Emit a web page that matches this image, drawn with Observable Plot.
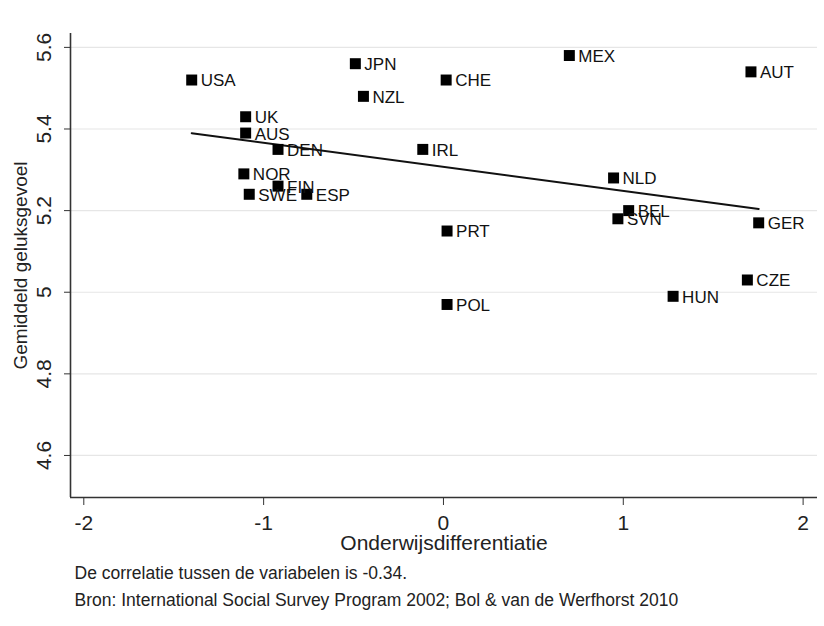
<!DOCTYPE html>
<html>
<head>
<meta charset="utf-8">
<script src="https://cdn.jsdelivr.net/npm/d3@7"></script>
<script src="https://cdn.jsdelivr.net/npm/@observablehq/plot@0.6"></script>
<style>
  html, body { margin: 0; padding: 0; background: #fff; }
  #chart svg { display: block; }
</style>
</head>
<body>
<div id="chart"></div>
<script>
// Landen (ISO-codes) met onderwijsdifferentiatie en gemiddeld geluksgevoel
const countries = ["USA","JPN","NZL","UK","AUS","DEN","NOR","FIN","SWE","ESP","CHE","MEX","AUT","IRL","NLD","BEL","SVN","GER","PRT","POL","HUN","CZE"];
const differentiation = [-1.40,-0.49,-0.445,-1.10,-1.10,-0.92,-1.11,-0.92,-1.08,-0.76,0.015,0.70,1.71,-0.115,0.946,1.03,0.97,1.753,0.02,0.02,1.277,1.69];
const happiness = [5.52,5.56,5.48,5.43,5.39,5.35,5.29,5.26,5.24,5.24,5.52,5.58,5.54,5.35,5.28,5.20,5.18,5.17,5.15,4.97,4.99,5.03];

const xTicks = [-2, -1, 0, 1, 2];
const yTicks = [4.6, 4.8, 5, 5.2, 5.4, 5.6];
const xDomain = [-2.074, 2.08];
const yDomain = [4.497, 5.634];

const xTitle = "Onderwijsdifferentiatie";
const yTitle = "Gemiddeld geluksgevoel";
const noteCorrelation = "De correlatie tussen de variabelen is -0.34.";
const noteSource = "Bron: International Social Survey Program 2002; Bol & van de Werfhorst 2010";

const data = countries.map((c, i) => ({country: c, x: differentiation[i], y: happiness[i]}));

const font = "'Liberation Sans', Arial, sans-serif";

const chart = Plot.plot({
  width: 824,
  height: 626,
  marginLeft: 70,
  marginRight: 7,
  marginTop: 33,
  marginBottom: 129,
  style: {fontFamily: font, fontSize: "16px", color: "#222", background: "#fff"},
  x: {domain: xDomain, ticks: xTicks},
  y: {domain: yDomain, ticks: yTicks},
  marks: [
    Plot.gridY(yTicks, {stroke: "#e6e6e6", strokeOpacity: 1, strokeWidth: 1.2}),
    // axis lines
    Plot.ruleX([xDomain[0]], {stroke: "#333", strokeWidth: 1.6}),
    Plot.ruleY([yDomain[0]], {stroke: "#333", strokeWidth: 1.6}),
    Plot.axisX({ticks: xTicks, tickSize: 8, tickPadding: 10, fontSize: 21, tickFormat: d => String(d), label: null, stroke: "#333"}),
    Plot.axisY({ticks: yTicks, tickSize: 6, tickFormat: () => "", label: null, stroke: "#333"}),
    // rotated y tick labels
    Plot.text(yTicks, {y: d => d, text: d => String(d), frameAnchor: "left", dx: -26.5, rotate: -90,
      textAnchor: "middle", lineAnchor: "middle", fontSize: 21, fill: "#222"}),
    Plot.text([yTitle], {frameAnchor: "left", dx: -50, rotate: -90, textAnchor: "middle", lineAnchor: "middle", fontSize: 19, fill: "#222"}),
    Plot.text([xTitle], {frameAnchor: "bottom", dy: 46, lineAnchor: "middle", fontSize: 21, fill: "#222"}),
    // fitted line
    Plot.linearRegressionY(data, {x: "x", y: "y", ci: 0, stroke: "#111", strokeWidth: 2}),
    // country markers and labels
    Plot.dot(data, {x: "x", y: "y", symbol: "square", r: 6.2, fill: "#000", stroke: "none"}),
    Plot.text(data, {x: "x", y: "y", text: "country", dx: 9, dy: 1, textAnchor: "start", lineAnchor: "middle", fontSize: 17, fill: "#111"}),
    // notes below the chart
    Plot.text([noteCorrelation], {frameAnchor: "bottom-left", dx: 4, dy: 76,
      fontSize: 17.5, fill: "#222", textAnchor: "start", lineAnchor: "middle"}),
    Plot.text([noteSource], {frameAnchor: "bottom-left", dx: 4, dy: 103,
      fontSize: 17.5, fill: "#222", textAnchor: "start", lineAnchor: "middle"})
  ]
});

document.getElementById("chart").append(chart);
</script>
</body>
</html>
